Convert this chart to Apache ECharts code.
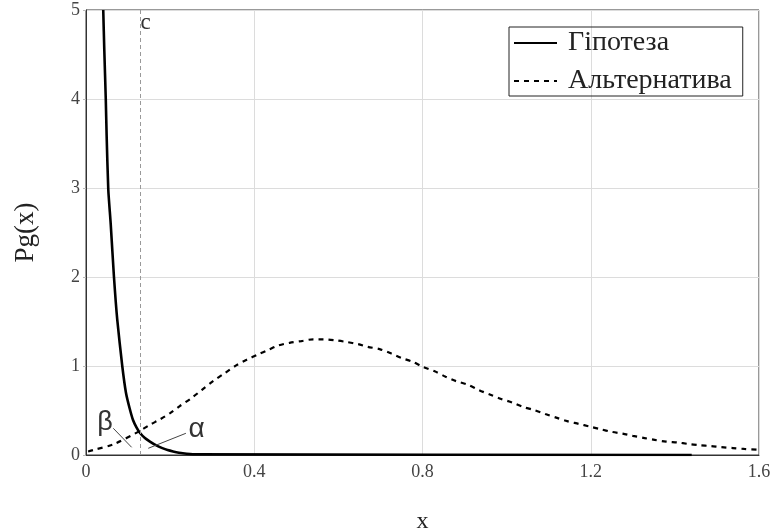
<!DOCTYPE html>
<html>
<head>
<meta charset="utf-8">
<script src="https://cdn.jsdelivr.net/npm/echarts@6/dist/echarts.min.js"></script>
<style>html,body{margin:0;padding:0;background:#fff}#c{width:776px;height:532px}</style>
</head>
<body>
<div id="c"></div>
<script>
// ---- data ----
const xTicks = [0, 0.4, 0.8, 1.2, 1.6];
const yTicks = [0, 1, 2, 3, 4, 5];
const seriesNames = ['Гіпотеза', 'Альтернатива'];
const hypX = [0.041, 0.0435, 0.047, 0.049, 0.053, 0.0587, 0.0665, 0.0743, 0.0862, 0.095, 0.104, 0.112, 0.120, 0.128, 0.140, 0.152, 0.166, 0.180, 0.194, 0.207, 0.23, 0.26, 1.44];
const hypY = [5.0, 4.55, 4.0, 3.6, 2.98, 2.6, 2.0, 1.52, 1.0, 0.70, 0.52, 0.39, 0.31, 0.25, 0.19, 0.15, 0.11, 0.08, 0.055, 0.04, 0.02, 0.008, 0];
const altX = [0.005, 0.017, 0.065, 0.124, 0.152, 0.176, 0.2, 0.223, 0.251, 0.275, 0.302, 0.330, 0.358, 0.382, 0.409, 0.433, 0.457, 0.484, 0.512, 0.540, 0.564, 0.591, 0.619, 0.647, 0.670, 0.698, 0.726, 0.750, 0.775, 0.801, 0.829, 0.855, 0.880, 0.908, 0.934, 0.960, 0.987, 1.013, 1.039, 1.065, 1.092, 1.118, 1.144, 1.171, 1.197, 1.223, 1.250, 1.276, 1.300, 1.328, 1.352, 1.379, 1.407, 1.431, 1.458, 1.486, 1.510, 1.538, 1.565, 1.600];
const altY = [0.04, 0.056, 0.12, 0.26, 0.34, 0.40, 0.47, 0.55, 0.64, 0.73, 0.83, 0.92, 1.01, 1.07, 1.13, 1.18, 1.23, 1.26, 1.28, 1.30, 1.30, 1.29, 1.27, 1.245, 1.215, 1.19, 1.14, 1.09, 1.05, 0.99, 0.94, 0.88, 0.83, 0.79, 0.73, 0.68, 0.63, 0.59, 0.54, 0.505, 0.46, 0.42, 0.38, 0.35, 0.32, 0.29, 0.26, 0.24, 0.215, 0.19, 0.17, 0.15, 0.14, 0.125, 0.11, 0.10, 0.088, 0.078, 0.068, 0.06];
const cValue = 0.128;
// annotation anchors (data coordinates)
const annoLabels = [
  { text: 'c', at: [0.142, 4.85], size: 23 },
  { text: 'β', at: [0.045, 0.36], size: 27 },
  { text: 'α', at: [0.263, 0.29], size: 28 }
];
const leaders = [
  [[0.0649, 0.300], [0.1085, 0.0865]],
  [[0.2375, 0.244], [0.148, 0.0753]]
];

const FONT = 'Liberation Serif';
const zip = (xs, ys) => xs.map((x, i) => [x, ys[i]]);

const chart = echarts.init(document.getElementById('c'), null, { renderer: 'canvas' });
chart.setOption({
  animation: false,
  backgroundColor: '#fff',
  grid: { left: 86, right: 17, top: 10, bottom: 77, show: true, borderColor: '#333', borderWidth: 1,
          outerBoundsMode: 'none', containLabel: false },
  legend: {
    data: seriesNames,
    orient: 'vertical',
    left: 509, top: 27,
    itemWidth: 43, itemHeight: 14, itemGap: 10,
    padding: [2, 11, 1, 4],
    borderColor: '#222', borderWidth: 1,
    itemStyle: { opacity: 0 },
    textStyle: { fontFamily: FONT, fontSize: 28, color: '#222', lineHeight: 28, padding: [0, 0, 0, 6] }
  },
  xAxis: {
    type: 'value', min: xTicks[0], max: xTicks[xTicks.length - 1], interval: xTicks[1] - xTicks[0],
    name: 'x', nameLocation: 'middle', nameGap: 55,
    nameTextStyle: { fontFamily: FONT, fontSize: 24, color: '#222' },
    axisLine: { lineStyle: { color: '#333', width: 1 } },
    axisTick: { show: false },
    axisLabel: { fontFamily: FONT, fontSize: 18, color: '#444', margin: 8 },
    splitLine: { lineStyle: { color: '#dcdcdc', width: 1 } }
  },
  yAxis: {
    type: 'value', min: yTicks[0], max: yTicks[yTicks.length - 1], interval: yTicks[1] - yTicks[0],
    name: 'Pg(x)', nameLocation: 'middle', nameGap: 47,
    nameTextStyle: { fontFamily: FONT, fontSize: 27, color: '#222' },
    axisLine: { show: true, lineStyle: { color: '#333', width: 1 } },
    axisTick: { show: true, length: 3, lineStyle: { color: '#bbb' } },
    axisLabel: { fontFamily: FONT, fontSize: 18, color: '#444', margin: 6 },
    splitLine: { lineStyle: { color: '#dcdcdc', width: 1 } }
  },
  series: [
    {
      name: seriesNames[1], type: 'line', data: zip(altX, altY), symbol: 'none', smooth: 0.3,
      lineStyle: { color: '#000', width: 2.2, type: [5, 5] }, itemStyle: { color: '#000' }, z: 3
    },
    {
      name: seriesNames[0], type: 'line', data: zip(hypX, hypY), symbol: 'none', smooth: 0.2,
      lineStyle: { color: '#000', width: 2.6 }, itemStyle: { color: '#000' }, z: 4
    },
    {
      name: 'annotations', type: 'line', data: [], symbol: 'none', z: 2,
      markLine: {
        silent: true, symbol: 'none', animation: false,
        label: { show: false },
        data: [
          { xAxis: cValue, lineStyle: { color: '#999', width: 1, type: [4, 3] } },
          ...leaders.map(l => [
            { coord: l[0], lineStyle: { color: '#444', width: 1, type: 'solid' } },
            { coord: l[1] }
          ])
        ]
      },
      markPoint: {
        silent: true, symbol: 'circle', symbolSize: 0, animation: false,
        data: annoLabels.map(a => ({
          coord: a.at,
          label: { show: true, position: 'inside', formatter: a.text,
            fontFamily: a.text === 'c' ? FONT : 'Liberation Sans', fontSize: a.size, color: '#333' }
        }))
      }
    }
  ]
});
</script>
</body>
</html>
